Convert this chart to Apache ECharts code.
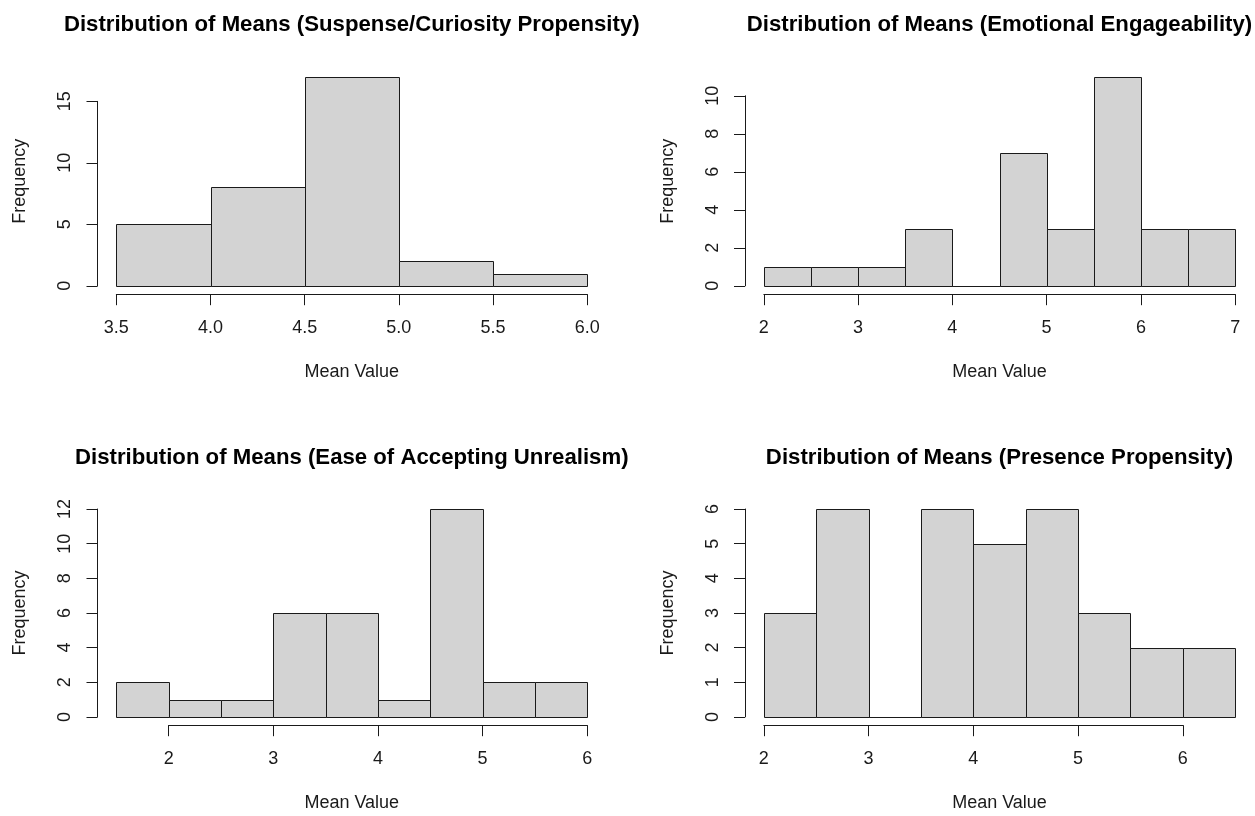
<!DOCTYPE html>
<html>
<head>
<meta charset="utf-8">
<title>Distribution of Means</title>
<script src="https://cdn.jsdelivr.net/npm/echarts@6/dist/echarts.min.js"></script>
<style>
  html, body { margin: 0; padding: 0; background: #fff; }
  #container { width: 1255px; height: 816px; }
</style>
</head>
<body>
<div id="container"></div>
<script>
// --- data ---
var titles = [
	'Distribution of Means (Suspense/Curiosity Propensity)',
	'Distribution of Means (Emotional Engageability)',
	'Distribution of Means (Ease of Accepting Unrealism)',
	'Distribution of Means (Presence Propensity)'
];

var suspenseBreaks = [3.5, 4.0, 4.5, 5.0, 5.5, 6.0];
var suspenseCounts = [5, 8, 17, 2, 1];

var emotionalBreaks = [2, 2.5, 3, 3.5, 4, 4.5, 5, 5.5, 6, 6.5, 7];
var emotionalCounts = [1, 1, 1, 3, 0, 7, 3, 11, 3, 3];

var unrealismBreaks = [1.5, 2, 2.5, 3, 3.5, 4, 4.5, 5, 5.5, 6];
var unrealismCounts = [2, 1, 1, 6, 6, 1, 12, 2, 2];

var presenceBreaks = [2, 2.5, 3, 3.5, 4, 4.5, 5, 5.5, 6, 6.5];
var presenceCounts = [3, 6, 0, 6, 5, 6, 3, 2, 2];

// axis ticks: [min, max, step]
var suspenseXTicks = [3.5, 6.0, 0.5];
var emotionalXTicks = [2, 7, 1];
var unrealismXTicks = [2, 6, 1];
var presenceXTicks = [2, 6, 1];

var suspenseYTicks = [0, 15, 5];
var emotionalYTicks = [0, 10, 2];
var unrealismYTicks = [0, 12, 2];
var presenceYTicks = [0, 6, 1];

var xLabelName = 'Mean Value';
var yLabelName = 'Frequency';

// --- layout ---
var FONT = "'Liberation Sans', Arial, sans-serif";
var TEXT = '#1a1a1a';
var LINE = '#1a1a1a';
var LABEL_SIZE = 18;
var cols = [[97.5, 606], [745, 1254]];
var rows = [[68.4, 294.2], [500.7, 725.2]];

function toBins(breaks, counts) {
	var out = [];
	for (var i = 0; i < counts.length; i++) {
		out.push([breaks[i], breaks[i + 1], counts[i]]);
	}
	return out;
}

var panels = [
	{ breaks: suspenseBreaks, counts: suspenseCounts, xt: suspenseXTicks, yt: suspenseYTicks, col: 0, row: 0, dec: 1 },
	{ breaks: emotionalBreaks, counts: emotionalCounts, xt: emotionalXTicks, yt: emotionalYTicks, col: 1, row: 0, dec: 0 },
	{ breaks: unrealismBreaks, counts: unrealismCounts, xt: unrealismXTicks, yt: unrealismYTicks, col: 0, row: 1, dec: 0 },
	{ breaks: presenceBreaks, counts: presenceCounts, xt: presenceXTicks, yt: presenceYTicks, col: 1, row: 1, dec: 0 }
];

function renderBar(params, api) {
	var p0 = api.coord([api.value(0), api.value(2)]);
	var p1 = api.coord([api.value(1), 0]);
	var x0 = Math.round(p0[0]) + 0.5, x1 = Math.round(p1[0]) + 0.5;
	var y0 = Math.round(p0[1]) + 0.5, y1 = Math.round(p1[1]) + 0.5;
	return {
		type: 'rect',
		shape: { x: x0, y: y0, width: x1 - x0, height: y1 - y0 },
		style: { fill: '#d3d3d3', stroke: LINE, lineWidth: 1 }
	};
}

var grids = [], xAxes = [], yAxes = [], series = [], titleList = [];

panels.forEach(function (p, i) {
	var L = p.col === 0 ? cols[0][0] : cols[1][0];
	var R = p.col === 0 ? cols[0][1] : cols[1][1];
	var T = p.row === 0 ? rows[0][0] : rows[1][0];
	var B = p.row === 0 ? rows[0][1] : rows[1][1];

	var b0 = p.breaks[0], bn = p.breaks[p.breaks.length - 1];
	var xlo = b0 - 0.04 * (bn - b0), xhi = bn + 0.04 * (bn - b0);
	var cmax = Math.max.apply(null, p.counts);
	var ylo = -0.04 * cmax, yhi = 1.04 * cmax;

	function px(v) { return L + (v - xlo) / (xhi - xlo) * (R - L); }
	function py(v) { return B - (v - ylo) / (yhi - ylo) * (B - T); }

	var g = grids.length;

	// data grid
	grids.push({ left: L, top: T, width: R - L, height: B - T, outerBoundsMode: 'none' });
	xAxes.push({
		gridIndex: g, type: 'value', min: xlo, max: xhi,
		axisLine: { show: false }, axisTick: { show: false }, axisLabel: { show: false }, splitLine: { show: false },
		name: xLabelName, nameLocation: 'middle', nameGap: 69,
		nameTextStyle: { fontFamily: FONT, fontSize: LABEL_SIZE, color: TEXT }
	});
	yAxes.push({
		gridIndex: g, type: 'value', min: ylo, max: yhi,
		axisLine: { show: false }, axisTick: { show: false }, axisLabel: { show: false }, splitLine: { show: false },
		name: yLabelName, nameLocation: 'middle', nameGap: 68,
		nameTextStyle: { fontFamily: FONT, fontSize: LABEL_SIZE, color: TEXT }
	});
	series.push({
		type: 'custom', xAxisIndex: g, yAxisIndex: g,
		renderItem: renderBar,
		encode: { x: [0, 1], y: 2 },
		data: toBins(p.breaks, p.counts),
		silent: true
	});

	// y axis grid (spans only the ticks, like base R)
	var yTop = py(p.yt[1]), yBot = py(p.yt[0]);
	grids.push({ left: L, top: yTop, width: 1, height: yBot - yTop, outerBoundsMode: 'none' });
	xAxes.push({ gridIndex: g + 1, type: 'value', min: 0, max: 1, show: false });
	yAxes.push({
		gridIndex: g + 1, type: 'value', position: 'left',
		min: p.yt[0], max: p.yt[1], interval: p.yt[2],
		axisLine: { show: true, lineStyle: { color: LINE, width: 1 } },
		axisTick: { show: true, length: 11, lineStyle: { color: LINE, width: 1 } },
		axisLabel: { show: true, rotate: 90, margin: 23, fontFamily: FONT, fontSize: LABEL_SIZE, color: TEXT },
		splitLine: { show: false }
	});

	// x axis grid
	var xLeft = px(p.xt[0]), xRight = px(p.xt[1]);
	grids.push({ left: xLeft, top: B - 1, width: xRight - xLeft, height: 1, outerBoundsMode: 'none' });
	var dec = p.dec;
	xAxes.push({
		gridIndex: g + 2, type: 'value', position: 'bottom',
		min: p.xt[0], max: p.xt[1], interval: p.xt[2],
		axisLine: { show: true, lineStyle: { color: LINE, width: 1 } },
		axisTick: { show: true, length: 11, lineStyle: { color: LINE, width: 1 } },
		axisLabel: {
			show: true, margin: 25, fontFamily: FONT, fontSize: LABEL_SIZE, color: TEXT,
			formatter: function (v) { return v.toFixed(dec); }
		},
		splitLine: { show: false }
	});
	yAxes.push({ gridIndex: g + 2, type: 'value', min: 0, max: 1, show: false });

	titleList.push({
		text: titles[i],
		left: (L + R) / 2,
		top: p.row === 0 ? 25 : 458,
		textAlign: 'center',
		textVerticalAlign: 'middle',
		padding: 0,
		textStyle: { fontFamily: FONT, fontSize: 22.2, fontWeight: 'bold', color: '#000' }
	});
});

var dom = document.getElementById('container');
var chart = echarts.init(dom, null, { renderer: 'canvas' });
chart.setOption({
	backgroundColor: '#fff',
	animation: false,
	title: titleList,
	grid: grids,
	xAxis: xAxes,
	yAxis: yAxes,
	series: series
});
</script>
</body>
</html>
